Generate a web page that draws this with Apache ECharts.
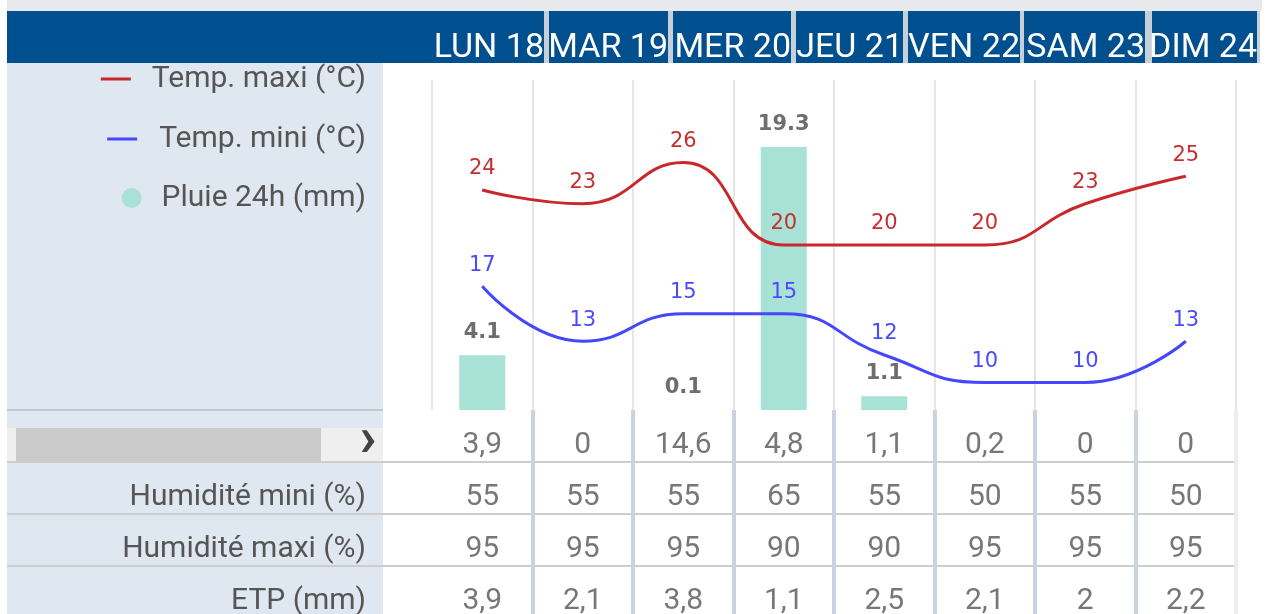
<!DOCTYPE html>
<html><head><meta charset="utf-8">
<script src="https://cdn.jsdelivr.net/npm/echarts@6/dist/echarts.min.js"></script>
<style>html,body{margin:0;padding:0;background:#fff}#c{width:1272px;height:614px}</style>
</head><body><div id="c"></div>
<script>
// ---- data ----
const dayLabels = ['LUN 18','MAR 19','MER 20','JEU 21','VEN 22','SAM 23','DIM 24'];
const columns = ['c1','c2','c3','c4','c5','c6','c7','c8'];
const tempMax = [24,23,26,20,20,20,23,25];
const tempMin = [17,13,15,15,12,10,10,13];
const rain24h = [4.1,null,0.1,19.3,1.1,null,null,null];
const rowLabels = ['','Humidité mini (%)','Humidité maxi (%)','ETP (mm)'];
const rowRain = [3.9,0,14.6,4.8,1.1,0.2,0,0];
const humMin = [55,55,55,65,55,50,55,50];
const humMax = [95,95,95,90,90,95,95,95];
const etp = [3.9,2.1,3.8,1.1,2.5,2.1,2,2.2];
const seriesNames = ['Temp. maxi (°C)','Temp. mini (°C)','Pluie 24h (mm)'];

// ---- layout (page chrome) ----
const headerCells = [[7,544],[549,668],[673,791],[796,903],[908,1020],[1024,1145],[1152,1257]];

const tableRows = [rowRain, humMin, humMax, etp];
const tableData = [];
tableRows.forEach((row, r) => row.forEach((v, c) => tableData.push([c, r, v])));

const chart = echarts.init(document.getElementById('c'), null, {renderer:'canvas'});

const graphics = [
  {type:'rect', z:-10, shape:{x:7,y:0,width:1255,height:11}, style:{fill:'#e7e9ec'}},
  {type:'rect', z:-10, shape:{x:7,y:11,width:1253,height:52}, style:{fill:'#c7cfd8'}},
  {type:'rect', z:-10, shape:{x:7,y:63,width:376,height:551}, style:{fill:'#dfe8f1'}},
  {type:'rect', z:-9, shape:{x:7,y:409,width:376,height:2}, style:{fill:'#c3c9d0'}},
  {type:'rect', z:-9, shape:{x:7,y:428,width:376,height:33}, style:{fill:'#efefef'}},
  {type:'rect', z:-9, shape:{x:16,y:428,width:305,height:33}, style:{fill:'#cbcbcb'}},
  {type:'text', z:-8, x:368, y:441, style:{text:'›', fill:'#444', font:'bold 56px Roboto', align:'center', verticalAlign:'middle'}}
];
dayLabels.forEach((d, i) => {
  const [a, b] = headerCells[i];
  graphics.push({type:'rect', z:-9, shape:{x:a,y:11,width:b-a,height:52}, style:{fill:'#004f8f'}});
  graphics.push({type:'text', z:-8, x:b, y:48, style:{text:d, fill:'#fff', font:'34px Roboto', align:'right', verticalAlign:'middle'}});
});

const legendBase = (name, top, icon, w, h, pad) => ({
  data:[name], right:901, top:top, orient:'vertical', icon:icon, itemWidth:w, itemHeight:h,
  selectedMode:false,
  textStyle:{fontFamily:'Roboto', fontSize:30, color:'#555', padding:[0,0,0,pad]}
});

const option = {
  animation:false,
  backgroundColor:'#fff',
  graphic: graphics,
  legend: [
    legendBase(seriesNames[0], 59, 'rect', 30, 3, 16),
    legendBase(seriesNames[1], 119, 'rect', 30, 3, 17),
    legendBase(seriesNames[2], 178, 'circle', 20, 20, 15)
  ],
  grid: [
    {left:432, width:804, top:80, height:330, outerBoundsMode:'none'},
    {left:432, width:804, top:410, height:208, outerBoundsMode:'none'}
  ],
  xAxis: [
    {type:'category', gridIndex:0, data:columns, boundaryGap:true,
     axisLine:{show:false}, axisTick:{show:false}, axisLabel:{show:false},
     splitLine:{show:true, lineStyle:{color:'#e6e6e6', width:2}}},
    {type:'category', gridIndex:1, data:columns, boundaryGap:true,
     axisLine:{show:false}, axisTick:{show:false}, axisLabel:{show:false},
     splitLine:{show:true, lineStyle:{color:['rgba(0,0,0,0)','#c8d4df','#c8d4df','#c8d4df','#c8d4df','#c8d4df','#c8d4df','#c8d4df','#ededed'], width:4}}}
  ],
  yAxis: [
    {type:'value', gridIndex:0, min:8, max:32, show:false},
    {type:'value', gridIndex:0, min:0.1, max:24.2, show:false},
    {type:'category', gridIndex:1, data:rowLabels, inverse:true, boundaryGap:true,
     axisLine:{show:false},
     axisTick:{show:true, length:425, interval:(i)=> i!==0, lineStyle:{color:'#cdcdcd', width:2}},
     axisLabel:{show:true, margin:66, formatter:(v)=> v ? '{a|' + v + '}' : '',
       rich:{a:{fontFamily:'Roboto', fontSize:30, color:'#555', padding:[19,0,0,0]}}},
     splitLine:{show:true, lineStyle:{color:['rgba(0,0,0,0)','#cdcdcd','#cdcdcd','#cdcdcd','#cdcdcd'], width:2}}}
  ],
  series: [
    {name:seriesNames[2], type:'bar', xAxisIndex:0, yAxisIndex:1, data:rain24h, barWidth:46,
     itemStyle:{color:'#a8e2d7'},
     label:{show:true, position:'top', distance:12, fontFamily:'DejaVu Sans', fontWeight:'bold', fontSize:21, color:'#6e6e6e'}},
    {name:seriesNames[0], type:'line', xAxisIndex:0, yAxisIndex:0, data:tempMax, smooth:true,
     symbol:'circle', symbolSize:1, color:'#c8282a', lineStyle:{width:3, color:'#c8282a'},
     label:{show:true, position:'top', distance:10, fontFamily:'DejaVu Sans', fontSize:21, color:'#c62f2f'}},
    {name:seriesNames[1], type:'line', xAxisIndex:0, yAxisIndex:0, data:tempMin, smooth:true,
     symbol:'circle', symbolSize:1, color:'#4646ff', lineStyle:{width:3, color:'#4646ff'},
     label:{show:true, position:'top', distance:10, fontFamily:'DejaVu Sans', fontSize:21, color:'#4a4aff'}},
    {name:'table', type:'scatter', xAxisIndex:1, yAxisIndex:2, data:tableData, symbolSize:0,
     itemStyle:{color:'rgba(0,0,0,0)'}, silent:true,
     label:{show:true, position:'inside', offset:[0,9.5], fontFamily:'Roboto', fontSize:30, color:'#555',
       formatter:(p)=> String(p.value[2]).replace('.', ',')}}
  ]
};
chart.setOption(option);
</script></body></html>
